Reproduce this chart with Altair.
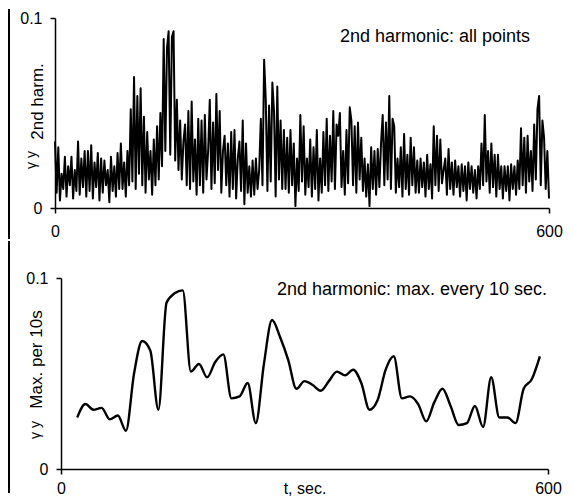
import altair as alt
import pandas as pd

# ---- data ----
# top panel: 2nd harmonic, all points (one value every 2 s, t = 0 ... 600)
top_vals = [
    0.035, 0.008, 0.032, 0.004, 0.018, 0.010, 0.027, 0.006, 0.022, 0.012, 0.027, 0.005, 0.020, 0.009, 0.035, 0.007, 0.026, 0.011, 0.030, 0.006,
    0.030, 0.009, 0.033, 0.005, 0.024, 0.011, 0.029, 0.004, 0.026, 0.008, 0.025, 0.012, 0.020, 0.003, 0.027, 0.009, 0.022, 0.006, 0.029, 0.010,
    0.034, 0.010, 0.024, 0.006, 0.030, 0.012, 0.052, 0.014, 0.069, 0.010, 0.059, 0.018, 0.063, 0.012, 0.048, 0.008, 0.040, 0.015, 0.030, 0.007,
    0.036, 0.012, 0.043, 0.015, 0.050, 0.022, 0.089, 0.030, 0.084, 0.093, 0.028, 0.090, 0.093, 0.025, 0.057, 0.020, 0.046, 0.015, 0.035, 0.044,
    0.012, 0.051, 0.010, 0.056, 0.014, 0.036, 0.007, 0.047, 0.012, 0.046, 0.008, 0.049, 0.015, 0.030, 0.057, 0.010, 0.045, 0.013, 0.060, 0.020,
    0.051, 0.008, 0.030, 0.038, 0.012, 0.034, 0.006, 0.040, 0.010, 0.041, 0.005, 0.026, 0.035, 0.009, 0.046, 0.002, 0.034, 0.008, 0.022, 0.006,
    0.025, 0.007, 0.026, 0.010, 0.020, 0.047, 0.012, 0.078, 0.057, 0.009, 0.054, 0.014, 0.066, 0.051, 0.006, 0.064, 0.015, 0.046, 0.010, 0.041,
    0.010, 0.037, 0.008, 0.041, 0.012, 0.034, 0.001, 0.026, 0.009, 0.049, 0.014, 0.043, 0.007, 0.026, 0.011, 0.036, 0.006, 0.032, 0.010, 0.041,
    0.004, 0.026, 0.008, 0.040, 0.012, 0.047, 0.009, 0.038, 0.014, 0.051, 0.010, 0.044, 0.038, 0.050, 0.011, 0.030, 0.007, 0.041, 0.013, 0.053,
    0.046, 0.012, 0.043, 0.008, 0.045, 0.015, 0.037, 0.009, 0.026, 0.006, 0.023, 0.001, 0.032, 0.010, 0.030, 0.007, 0.031, 0.011, 0.034, 0.049,
    0.012, 0.045, 0.015, 0.059, 0.010, 0.047, 0.043, 0.008, 0.026, 0.011, 0.032, 0.006, 0.039, 0.010, 0.028, 0.007, 0.037, 0.012, 0.032, 0.008,
    0.025, 0.008, 0.026, 0.011, 0.024, 0.006, 0.028, 0.010, 0.023, 0.005, 0.043, 0.012, 0.038, 0.009, 0.036, 0.013, 0.020, 0.026, 0.007, 0.031,
    0.010, 0.024, 0.007, 0.025, 0.011, 0.022, 0.006, 0.023, 0.009, 0.022, 0.004, 0.024, 0.010, 0.022, 0.008, 0.020, 0.005, 0.022, 0.010, 0.034,
    0.012, 0.049, 0.014, 0.030, 0.008, 0.034, 0.011, 0.028, 0.006, 0.028, 0.010, 0.022, 0.005, 0.022, 0.009, 0.022, 0.004, 0.023, 0.010, 0.022,
    0.007, 0.025, 0.010, 0.042, 0.012, 0.037, 0.008, 0.038, 0.014, 0.030, 0.009, 0.044, 0.015, 0.052, 0.059, 0.012, 0.046, 0.037, 0.010, 0.030,
    0.005,
]
top_t = [2 * i for i in range(len(top_vals))]

# bottom panel: maximum in every 10 s window (t = 20 ... 590)
bot_t = [20, 30, 40, 50, 60, 70, 80, 90, 100, 110, 120, 130, 140, 150, 160, 170, 180, 190, 200,
         210, 220, 230, 240, 250, 260, 270, 280, 290, 300, 310, 320, 330, 340, 350, 360, 370, 380,
         390, 400, 410, 420, 430, 440, 450, 460, 470, 480, 490, 500, 510, 520, 530, 540, 550, 560,
         570, 580, 590]
bot_vals = [0.027, 0.034, 0.031, 0.032, 0.026, 0.028, 0.020, 0.050, 0.067, 0.062, 0.031, 0.087,
            0.092, 0.0935, 0.051, 0.055, 0.048, 0.056, 0.060, 0.037, 0.038, 0.045, 0.024, 0.055,
            0.078, 0.069, 0.057, 0.042, 0.046, 0.044, 0.041, 0.046, 0.051, 0.049, 0.052, 0.045,
            0.031, 0.036, 0.052, 0.059, 0.037, 0.038, 0.034, 0.025, 0.035, 0.042, 0.033, 0.023,
            0.024, 0.033, 0.022, 0.048, 0.027, 0.027, 0.024, 0.042, 0.047, 0.059]

x_ticks = [0, 600]
y_ticks = [0, 0.1]
x_domain = [0, 600]
y_domain = [0, 0.1]

top_note = "2nd harmonic: all points"
bot_note = "2nd harmonic: max. every 10 sec."
top_ytitle = "2nd harm."
bot_ytitle = "Max. per 10s"
gamma = "\u03b3 y"
x_title = "t, sec."

FONT = "Liberation Sans"

top_df = pd.DataFrame({"t": top_t, "v": top_vals})
bot_df = pd.DataFrame({"t": bot_t, "v": bot_vals})
one = pd.DataFrame({"k": [0]})


def text_mark(txt, x, y, size, angle=0):
    return alt.Chart(one).mark_text(
        text=txt, font=FONT, fontSize=size, color="black",
        align="center", baseline="alphabetic", angle=angle,
    ).encode(x=alt.value(x), y=alt.value(y))


def border(x, y1, y2):
    return alt.Chart(one).mark_rule(color="black", strokeWidth=2).encode(
        x=alt.value(x), y=alt.value(y1), y2=alt.value(y2)
    )


def x_enc(rng, axis_kw):
    sc = dict(domain=x_domain, nice=False, zero=False)
    if rng is not None:
        sc["range"] = rng
    return alt.X(
        "t:Q",
        scale=alt.Scale(**sc),
        axis=alt.Axis(values=x_ticks, format="d", labelFlush=False, **axis_kw),
    )


def y_enc(title, tx, ty, offset=0):
    return alt.Y(
        "v:Q",
        scale=alt.Scale(domain=y_domain, nice=False),
        axis=alt.Axis(
            values=y_ticks, format="~g", labelFlush=False, labelPadding=8,
            offset=offset,
            title=title, titleAngle=270, titleX=tx, titleY=ty,
            titleAlign="center", titleBaseline="alphabetic", titleFontSize=17,
        ),
    )


top_line = alt.Chart(top_df).mark_line(
    color="black", strokeWidth=2.0, strokeJoin="round"
).encode(
    x=x_enc(None, dict(title=None, labelPadding=10)),
    y=y_enc(top_ytitle, -13, 83),
)

top = alt.layer(
    border(-46, -9, 221),
    top_line,
    text_mark(top_note, 380, 24, 18),
    text_mark(gamma, -19, 142, 14, 270),
).properties(width=494, height=190)

bot_line = alt.Chart(bot_df).mark_line(
    color="black", strokeWidth=2.4, interpolate="monotone", strokeJoin="round"
).encode(
    x=x_enc([6, 493], dict(title=x_title, labelPadding=6, titleY=11,
                           titleBaseline="top", titleFontSize=16)),
    y=y_enc(bot_ytitle, -20, 81, offset=-6),
)

bottom = alt.layer(
    border(-46, -37, 215),
    bot_line,
    text_mark(bot_note, 357, 17, 18),
    text_mark(gamma, -15, 152, 14, 270),
).properties(width=493, height=191)

chart = alt.vconcat(top, bottom, spacing=0).properties(
    padding=0, background="white"
).configure_view(stroke=None).configure_axis(
    grid=False,
    domainColor="black", domainWidth=1.5,
    tickColor="black", tickWidth=1.5, tickSize=5,
    labelFont=FONT, labelFontSize=16, labelColor="black",
    titleFont=FONT, titleFontWeight="normal", titleColor="black",
)

chart.save("out.html", embed_options={"renderer": "svg", "actions": False})
